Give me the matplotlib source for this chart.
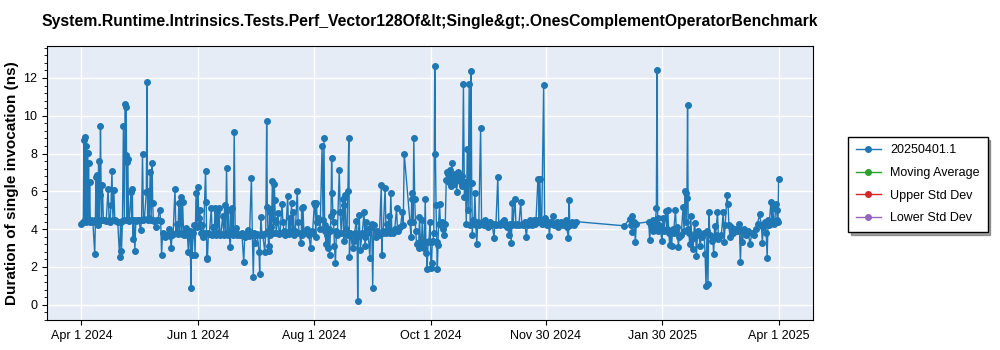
import matplotlib
matplotlib.use("Agg")
import matplotlib.pyplot as plt
import matplotlib.dates as mdates
from matplotlib.ticker import AutoMinorLocator
import pandas as pd

# measured durations (ns); one entry per day, a tuple = several runs that day, None = no run
start_apr = "2024-04-01"
vals_apr_may = [4.3, (4.4, 8.7, 4.5), (8.9, 4.4, 8.4), (4.5, 8.05, 4.5, 7.5), (4.5, 6.5, 4.4), 4.5, 4.4,
                (2.67, 4.5, 6.75), (4.4, 6.85, 4.2), (7.6, 4.5, 5.8), (9.44, 4.5), (6.35, 4.5), 4.5, 4.45,
                (6.15, 4.5), (4.4, 5.3), (7.1, 4.5), (6.05, 4.5), 4.45, 4.4, (2.55, 4.4), (2.85, 4.45),
                (9.45, 4.5), (10.63, 7.9, 10.45, 4.5), (7.55, 7.7, 4.5), 4.45, (5.97, 4.5, 6.1), (3.48, 4.5),
                (2.86, 4.45), 4.5, 4.5, (3.95, 4.5), (7.96, 4.5), 4.55, (5.97, 11.78, 4.5), (6.0, 4.6),
                (7.03, 4.5), (7.52, 5.36, 4.5), 4.45, (4.13, 4.5), 4.5, (5.04, 4.45), (2.64, 3.8), 3.75,
                (3.6, 3.7), 3.7, (4.0, 3.65), (3.0, 3.7), 3.75, (6.1, 3.8), (4.3, 3.75), (5.36, 3.8),
                (5.71, 3.75), (5.45, 3.7), 3.8, (4.05, 3.7), (2.8, 3.75), (3.9, 0.88, 3.7), (2.64, 3.8),
                (4.2, 2.64), (5.9, 4.1), (6.25, 4.6)]

start_jun = "2024-06-02"
vals_jun_aug = [(5.0, 4.3, 3.8), (4.2, 3.6), 3.8, (7.07, 5.45, 2.43), (2.5, 3.8), 3.75, (5.13, 3.7),
                (4.1, 3.75), (5.1, 3.7), (4.9, 3.8), (5.1, 3.7), 3.75, (4.7, 3.7), (5.3, 3.8), (7.26, 3.7),
                (5.0, 3.75), (3.08, 5.05, 3.8), (5.1, 3.7), (9.14, 3.9), (4.05, 3.7), 3.75, 3.7, 3.8,
                (2.25, 3.6), 3.75, (3.95, 3.7), 3.65, (6.73, 3.7), (1.49, 3.8), (3.25, 3.7), 3.75,
                (2.8, 1.63, 3.7), (4.62, 3.75), 3.7, (2.78, 3.8), (9.7, 5.15, 3.9), (3.1, 2.85, 5.05, 4.9),
                (3.7, 4.1), (6.55, 3.8), (6.41, 5.57, 4.5, 4.4), 3.8, (4.83, 3.75), 3.8, (5.33, 4.4),
                (3.9, 3.7), 3.85, (5.76, 3.75), (4.6, 3.9), (5.36, 3.8), (4.9, 3.7), 3.9, (6.01, 4.4), 3.8,
                (3.25, 5.1, 3.7), (5.15, 3.8), 3.9, 4.0, 3.7, (3.0, 3.9), 3.8, (5.4, 5.3, 3.6), (5.4, 4.4),
                4.6, 4.0]

start_aug = "2024-08-05"
vals_aug_oct = [(8.4, 4.5), (8.82, 4.2, 3.9), (3.2, 3.7), (3.0, 4.0), (2.64, 3.9, 4.7), (7.77, 5.89, 4.9),
                (4.4, 3.1), (2.2, 3.9), 3.7, (7.15, 4.9), 3.8, (5.6, 3.4, 5.3), (5.8, 4.0), (3.7, 6.0),
                (8.82, 2.55, 3.8), 3.7, (3.0, 3.4), 3.8, (4.45, 3.6, 0.18), (3.7, 4.75), 2.9, 3.8,
                (4.9, 3.6, 3.1), (4.4, 3.8), 4.0, (2.5, 4.1), (4.3, 0.91), 4.2, 3.6, 3.9, 3.7,
                (6.33, 2.64, 3.8), 3.9, (6.19, 3.8), (4.3, 3.9), (4.7, 3.8), (5.89, 3.9), 3.8, 4.0,
                (5.1, 3.9), 4.0, 4.1, (4.92, 4.2), 8.0, None, None, (4.4, 3.6), (5.89, 5.6, 4.4),
                (8.84, 5.6), (3.9, 3.2), (3.25, 3.0), (4.62, 3.3), (3.3, 4.5), (3.2, 3.0),
                (5.59, 3.3, 2.72), (1.88, 3.3), (3.4, 4.4), (1.93, 2.2, 3.3), (3.4, 3.8),
                (12.65, 8.0, 5.27), (3.3, 1.88, 3.16), (4.3, 5.33), 4.2, (4.4, 4.0), (3.69, 4.3)]

start_oct = "2024-10-09"
vals_oct_dec = [(6.6, 7.03), (6.9, 6.5), (7.12, 6.3), (7.52, 6.6), (6.4, 6.9), (6.6, 5.97), (7.0, 6.8),
                (6.6, 6.5), (6.8, 6.3), (11.69, 5.71), (6.5, 4.3), (8.26, 5.0), (11.69, 4.2),
                (12.36, 6.45, 3.69), (4.5, 4.3), (5.89, 4.2), (3.22, 4.4), 4.2, (9.35, 4.3), 4.4,
                (4.2, 4.5), 4.3, 4.1, (4.4, 4.2), 4.3, (3.55, 4.3), 4.2, (6.77, 4.3), 4.2, (4.4, 4.3), 4.5,
                (4.2, 4.3), 4.1, (3.69, 4.3), (3.29, 4.2, 5.41), 4.3, (5.62, 4.2), 4.3, 4.2, (5.45, 4.3),
                4.2, 4.4, (3.57, 4.3), 4.2, (4.5, 4.3), 4.2, (4.5, 4.3), 4.5, (6.64, 6.68, 4.4), (6.68, 4.5),
                4.3, (11.63, 4.6), 4.3, (4.2, 4.4), (3.66, 4.3), 4.4, (4.71, 4.2), 4.3, (4.4, 4.1), 4.3,
                4.4, 4.2, (4.3, 4.5), 4.1, (3.55, 5.57, 4.2), 4.3, 4.4, 4.2, 4.4]

start_jan = "2025-01-10"
vals_jan = [4.18, None, None, (4.53, 4.2), (4.69, 3.83), (4.3, 4.4), (3.3, 4.3)]

start_feb = "2025-01-23"
vals_feb_mar = [(4.39, 3.43), 4.2, (4.5, 3.9), (4.1, 4.4), (5.13, 12.43, 4.6), (3.9, 4.2), 4.0, (3.37, 4.6),
                3.9, (4.97, 4.0), (5.0, 3.8), (3.16, 3.9), (3.1, 4.0), 3.8, (5.0, 3.9), (4.1, 3.08), 3.6,
                3.7, (5.18, 3.9), (6.01, 5.92, 4.4), (5.66, 10.58, 4.0), (3.8, 3.2), (4.71, 3.5),
                (2.93, 3.6), (4.34, 3.8), (2.58, 3.7), 3.9, (3.1, 3.7), 3.6, (3.8, 2.67), (0.97, 3.9),
                (1.09, 4.89), 3.7, (3.4, 3.6), (2.69, 4.17), 3.7, (4.89, 3.5), 3.6, 3.7, (4.89, 3.3), 4.2,
                (5.83, 5.31), (4.2, 3.6), 4.1, 3.8, 4.0, 3.9, (4.3, 4.0), (2.25, 3.9), 3.3, 4.0, 3.7, 3.9,
                3.2, 3.8, 3.7, 4.0, 4.3, 4.78, (4.2, 3.25), 4.1, (4.4, 3.8), (2.46, 4.5), 4.2, (5.45, 4.4),
                (5.1, 4.3), (4.4, 5.31), (5.0, 4.5, 4.4), 6.64]

segments = [(start_apr, vals_apr_may), (start_jun, vals_jun_aug), (start_aug, vals_aug_oct),
            (start_oct, vals_oct_dec), (start_jan, vals_jan), (start_feb, vals_feb_mar)]

tick_dates = ["2024-04-01", "2024-06-01", "2024-08-01", "2024-10-01", "2024-11-30", "2025-01-30", "2025-04-01"]
title = "System.Runtime.Intrinsics.Tests.Perf_Vector128Of&lt;Single&gt;.OnesComplementOperatorBenchmark"


def rozwin(start, wartosci):
    # spread several runs of one day evenly over that day
    czasy, ys = [], []
    t0 = pd.Timestamp(start)
    for i, w in enumerate(wartosci):
        if w is None:
            continue
        if not isinstance(w, tuple):
            w = (w,)
        for j, v in enumerate(w):
            czasy.append(t0 + pd.Timedelta(days=i + j / len(w)))
            ys.append(v)
    return czasy, ys


x, y = [], []
for start, wartosci in segments:
    cx, cy = rozwin(start, wartosci)
    x += cx
    y += cy

plt.rcParams["font.family"] = ["Liberation Sans", "DejaVu Sans"]
fig = plt.figure(figsize=(10, 3.5), dpi=100)
ax = fig.add_axes([0.047, 0.086, 0.766, 0.783])
ax.set_facecolor("#E5ECF6")

ax.plot(x, y, "-o", color="#1f77b4", linewidth=1, markersize=4, label="20250401.1")
ax.plot([], [], "-o", color="#2ca02c", linewidth=1, markersize=4, label="Moving Average")
ax.plot([], [], "-o", color="#d62728", linewidth=1, markersize=4, label="Upper Std Dev")
ax.plot([], [], "-o", color="#9467bd", linewidth=1, markersize=4, label="Lower Std Dev")

ax.set_xlim(pd.Timestamp("2024-03-14"), pd.Timestamp("2025-04-19"))
ax.set_ylim(-0.8, 13.7)
ax.set_yticks(range(0, 13, 2))
ax.yaxis.set_minor_locator(AutoMinorLocator(5))
ax.set_xticks([pd.Timestamp(d) for d in tick_dates])
ax.xaxis.set_major_formatter(mdates.DateFormatter("%b %-d %Y"))
ax.tick_params(labelsize=9)
ax.grid(True, color="white", linewidth=1)
ax.set_axisbelow(True)

ax.set_title(title, fontsize=11.3, fontweight="bold", pad=14)
ax.set_ylabel("Duration of single invocation (ns)", fontsize=11, fontweight="bold", labelpad=3)

leg = fig.legend(loc="upper left", bbox_to_anchor=(0.848, 0.609), fontsize=9, frameon=True,
                 fancybox=False, shadow=True, edgecolor="black", handlelength=2,
                 borderaxespad=0, labelspacing=0.85, borderpad=0.6)

fig.savefig("out.png")
